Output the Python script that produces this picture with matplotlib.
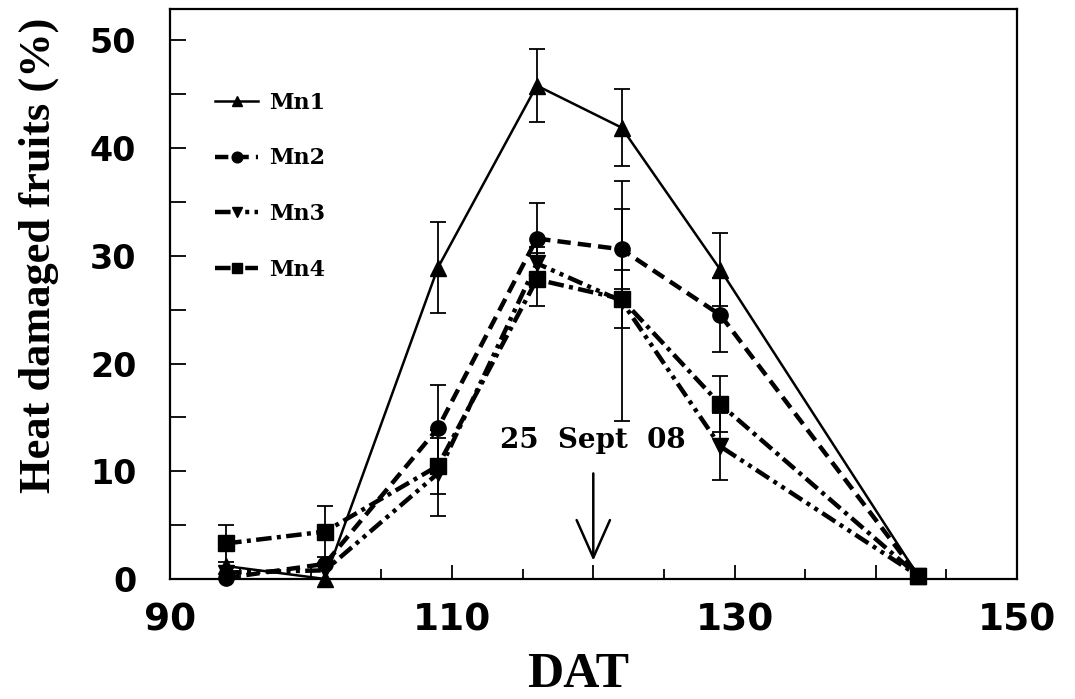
import numpy as np
import matplotlib
matplotlib.use("Agg")
from matplotlib import pyplot as plt
from matplotlib.ticker import MultipleLocator, FixedLocator

## data: days after transplanting vs heat damaged fruits (%)
dat = np.array([94, 101, 109, 116, 122, 129, 143])
mn1 = np.array([1.2, 0.0, 28.9, 45.8, 41.9, 28.7, 0.3])
mn1_err = np.array([0, 0, 4.2, 3.4, 3.6, 3.4, 0])
mn2 = np.array([0.1, 1.4, 14.0, 31.6, 30.6, 24.5, 0.3])
mn2_err = np.array([0, 0, 4.0, 3.3, 3.7, 3.4, 0])
mn3 = np.array([0.6, 0.8, 9.8, 29.3, 25.8, 12.3, 0.3])
mn3_err = np.array([0, 0, 4.0, 1.5, 11.1, 3.1, 0])
mn4 = np.array([3.3, 4.4, 10.5, 27.8, 26.0, 16.2, 0.3])
mn4_err = np.array([1.7, 2.4, 2.6, 2.5, 2.7, 2.6, 0])

names = ['Mn1', 'Mn2', 'Mn3', 'Mn4']
x_labels = ['90', '', '110', '', '130', '', '150']
y_labels = ['0', '', '10', '', '20', '', '30', '', '40', '', '50']
note = '25  Sept  08'
note_day = 120

series = [
    (mn1, mn1_err, '^', '-', 1.8),
    (mn2, mn2_err, 'o', (0, (3.0, 1.6)), 3.2),
    (mn3, mn3_err, 'v', (0, (3.5, 1.2, 0.9, 1.2, 0.9, 1.2)), 3.2),
    (mn4, mn4_err, 's', (0, (3.5, 1.2, 0.9, 1.2)), 3.2),
]

fig = plt.figure(figsize=(10.75, 6.99), dpi=100)
ax = fig.add_axes([0.1578, 0.1717, 0.7882, 0.8153])

handles = []
for (y, e, mk, ls, lw), name in zip(series, names):
    m = e > 0
    ax.errorbar(dat[m], y[m], yerr=e[m], fmt='none', ecolor='black',
                elinewidth=1.3, capsize=6, capthick=1.3, zorder=2)
    h, = ax.plot(dat, y, color='black', linestyle=ls, linewidth=lw,
                 marker=mk, markersize=11, markerfacecolor='black',
                 markeredgecolor='black', label=name, zorder=3,
                 clip_on=False)
    handles.append(h)

ax.set_xlim(90, 150)
ax.set_ylim(0, 52.9)

ax.xaxis.set_major_locator(FixedLocator(np.arange(90, 151, 10)))
ax.xaxis.set_minor_locator(MultipleLocator(5))
ax.set_xticklabels(x_labels)
ax.yaxis.set_major_locator(FixedLocator(np.arange(0, 51, 5)))
ax.set_yticklabels(y_labels)

ax.tick_params(axis='x', which='major', direction='in', length=10, width=1.3, pad=17)
ax.tick_params(axis='x', which='minor', direction='in', length=7, width=1.3)
ax.tick_params(axis='y', which='major', direction='in', length=11.5, width=1.3, pad=24)
ax.tick_params(top=False, right=False)

for lab in ax.get_xticklabels():
    lab.set_family('DejaVu Sans')
    lab.set_fontweight('bold')
    lab.set_fontsize(27)
for lab in ax.get_yticklabels():
    lab.set_family('DejaVu Sans')
    lab.set_fontweight('bold')
    lab.set_fontsize(24)

for sp in ax.spines.values():
    sp.set_linewidth(1.6)

ax.set_ylabel('Heat damaged fruits (%)', family='Liberation Serif',
              fontweight='bold', fontsize=32)
ax.yaxis.set_label_coords(-0.13, 0.568)
ax.set_xlabel('DAT', family='Liberation Serif', fontweight='bold', fontsize=36)
ax.xaxis.set_label_coords(0.482, -0.128)

# harvest date marker
ax.text(note_day, 12.9, note, ha='center', va='center', family='DejaVu Serif',
        fontweight='bold', fontsize=20)
ax.annotate('', xy=(note_day, 1.7), xytext=(note_day, 9.8),
            arrowprops=dict(arrowstyle='->,head_length=2.7,head_width=1.2',
                            color='black', lw=1.8, shrinkA=0, shrinkB=0))

leg = ax.legend(handles=handles, loc='upper left', bbox_to_anchor=(0.054, 0.855),
                frameon=False, prop=dict(family='DejaVu Serif', weight='bold', size=16),
                handlelength=1.9, handletextpad=0.5, labelspacing=1.52,
                markerscale=0.7, borderpad=0, borderaxespad=0)

fig.savefig('out.png', dpi=100)
